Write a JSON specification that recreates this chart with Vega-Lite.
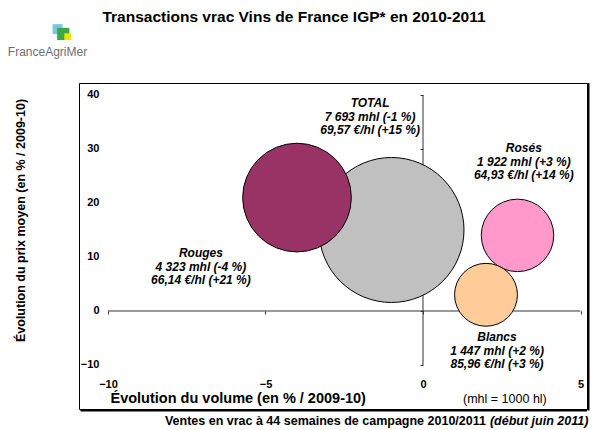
{
  "$schema": "https://vega.github.io/schema/vega-lite/v6.json",
  "width": 508,
  "height": 326,
  "autosize": {"type": "none"},
  "padding": {"left": 79, "top": 83, "right": 5, "bottom": 21},
  "title": {
    "text": "Transactions vrac Vins de France IGP* en 2010-2011",
    "font": "Liberation Sans",
    "fontSize": 15.5,
    "fontWeight": "bold",
    "color": "#000000",
    "anchor": "middle",
    "frame": "group",
    "dx": -39,
    "dy": 13,
    "baseline": "alphabetic",
    "offset": 0
  },
  "config": {
    "font": "Liberation Sans",
    "view": {"stroke": "#000000", "strokeWidth": 1},
    "axis": {"grid": false}
  },
  "datasets": {
    "bulles": [
      {"nom": "TOTAL", "volume_evol": -1, "prix_evol": 15, "volume_mhl": 7693, "prix_eur_hl": 69.57},
      {"nom": "Rosés", "volume_evol": 3, "prix_evol": 14, "volume_mhl": 1922, "prix_eur_hl": 64.93},
      {"nom": "Blancs", "volume_evol": 2, "prix_evol": 3, "volume_mhl": 1447, "prix_eur_hl": 85.96},
      {"nom": "Rouges", "volume_evol": -4, "prix_evol": 21, "volume_mhl": 4323, "prix_eur_hl": 66.14}
    ],
    "etiquettes": [
      {"nom": "TOTAL", "lx": -1.68, "ly": 38.5, "lignes": ["TOTAL", "7 693 mhl (-1 %)", "69,57 €/hl (+15 %)"]},
      {"nom": "Rosés", "lx": 3.2, "ly": 30.2, "lignes": ["Rosés", "1 922 mhl (+3 %)", "64,93 €/hl (+14 %)"]},
      {"nom": "Rouges", "lx": -7.05, "ly": 10.74, "lignes": ["Rouges", "4 323 mhl (-4 %)", "66,14 €/hl (+21 %)"]},
      {"nom": "Blancs", "lx": 2.35, "ly": -4.81, "lignes": ["Blancs", " 1 447 mhl (+2 %)", "85,96 €/hl (+3 %)"]}
    ],
    "axe_h": [{"x": -10, "x2": 5, "y": 0}],
    "axe_v": [{"x": 0, "y": -10, "y2": 40}],
    "cadre_bas": [{"x": -10.92, "x2": 5.206, "y": -18.15}],
    "cadre_droit": [{"x": 5.206, "y": -18.15, "y2": 42.22}],
    "note": [{"x": 2.6, "y": -16.3, "texte": "(mhl = 1000 hl)"}],
    "source": [{"x": 2.03, "y": -20.37, "texte": "Ventes en vrac à 44 semaines de campagne 2010/2011", "suite": "(début juin 2011)"}],
    "logo_texte": [{"x": -11.92, "y": 47.96, "texte": "FranceAgriMer"}],
    "logo_icone": [
      {"x": -11.6, "y": 52.2, "couleur": "#7fc4e8", "taille": 100},
      {"x": -11.42, "y": 51.3, "couleur": "#3aa845", "taille": 150},
      {"x": -11.28, "y": 50.8, "couleur": "#f2e200", "taille": 45}
    ]
  },
  "resolve": {"axis": {"x": "independent", "y": "independent"}},
  "layer": [
    {
      "data": {"name": "cadre_bas"},
      "mark": {"type": "rule", "stroke": "#000000", "strokeWidth": 2, "yOffset": 1.5, "xOffset": 1.5},
      "encoding": {
        "x": {"field": "x", "type": "quantitative", "scale": {"domain": [-10.92, 5.206], "nice": false, "zero": false}, "axis": null},
        "x2": {"field": "x2"},
        "y": {"field": "y", "type": "quantitative", "scale": {"domain": [-18.15, 42.22], "nice": false, "zero": false}, "axis": null}
      }
    },
    {
      "data": {"name": "cadre_droit"},
      "mark": {"type": "rule", "stroke": "#000000", "strokeWidth": 2, "yOffset": 1.5, "xOffset": 1.5},
      "encoding": {
        "x": {"field": "x", "type": "quantitative", "scale": {"domain": [-10.92, 5.206], "nice": false, "zero": false}, "axis": null},
        "y": {"field": "y", "type": "quantitative", "scale": {"domain": [-18.15, 42.22], "nice": false, "zero": false}, "axis": null},
        "y2": {"field": "y2"}
      }
    },
    {
      "data": {"name": "axe_h"},
      "mark": {"type": "rule", "stroke": "#333333", "strokeWidth": 1},
      "encoding": {
        "x": {"field": "x", "type": "quantitative", "scale": {"domain": [-10.92, 5.206], "nice": false, "zero": false},
          "axis": {"orient": "bottom", "offset": -98, "values": [-10, -5, 0, 5], "labels": false, "domain": false, "ticks": true, "tickSize": 3, "tickColor": "#333333", "title": null}},
        "x2": {"field": "x2"},
        "y": {"field": "y", "type": "quantitative", "scale": {"domain": [-18.15, 42.22], "nice": false, "zero": false}, "axis": null}
      }
    },
    {
      "data": {"name": "axe_v"},
      "mark": {"type": "rule", "stroke": "#333333", "strokeWidth": 1},
      "encoding": {
        "x": {"field": "x", "type": "quantitative", "scale": {"domain": [-10.92, 5.206], "nice": false, "zero": false}, "axis": null},
        "y": {"field": "y", "type": "quantitative", "scale": {"domain": [-18.15, 42.22], "nice": false, "zero": false},
          "axis": {"orient": "left", "offset": -344, "values": [-10, 0, 10, 20, 30, 40], "labels": false, "domain": false, "ticks": true, "tickSize": 3, "tickColor": "#333333", "title": null}},
        "y2": {"field": "y2"}
      }
    },
    {
      "data": {"name": "bulles"},
      "mark": {"type": "circle", "opacity": 1, "stroke": "#000000", "strokeWidth": 1},
      "encoding": {
        "x": {"field": "volume_evol", "type": "quantitative", "scale": {"domain": [-10.92, 5.206], "nice": false, "zero": false},
          "axis": {"orient": "bottom", "offset": -31, "values": [-10, -5, 0, 5], "domain": false, "ticks": false, "tickSize": 0, "labelPadding": 0,
            "labelFont": "Liberation Sans", "labelFontSize": 11, "labelFontWeight": "bold", "labelColor": "#000000", "labelFlush": false,
            "title": "Évolution du volume (en % / 2009-10)", "titleFont": "Liberation Sans", "titleFontSize": 14.5, "titleFontWeight": "bold", "titleColor": "#000000",
            "titleX": 31, "titleY": 24, "titleAlign": "left", "titleBaseline": "alphabetic"}},
        "y": {"field": "prix_evol", "type": "quantitative", "scale": {"domain": [-18.15, 42.22], "nice": false, "zero": false},
          "axis": {"orient": "left", "offset": -21, "values": [-10, 0, 10, 20, 30, 40], "domain": false, "ticks": false, "tickSize": 0, "labelPadding": 1,
            "labelFont": "Liberation Sans", "labelFontSize": 11, "labelFontWeight": "bold", "labelColor": "#000000", "labelFlush": false,
            "title": "Évolution du prix moyen (en % / 2009-10)", "titleFont": "Liberation Sans", "titleFontSize": 12.5, "titleFontWeight": "bold", "titleColor": "#000000",
            "titleAngle": -90, "titleX": -80, "titleY": 137, "titleAlign": "center", "titleBaseline": "middle"}},
        "size": {"field": "volume_mhl", "type": "quantitative", "scale": {"type": "linear", "domain": [0, 7693], "range": [0, 21025]}, "legend": null},
        "color": {"field": "nom", "type": "nominal", "scale": {"domain": ["TOTAL", "Rosés", "Blancs", "Rouges"], "range": ["#C0C0C0", "#FF99CC", "#FFCC99", "#993366"]}, "legend": null}
      }
    },
    {
      "data": {"name": "etiquettes"},
      "mark": {"type": "text", "font": "Liberation Sans", "fontSize": 12, "fontWeight": "bold", "fontStyle": "italic", "align": "center", "baseline": "middle", "lineHeight": 13.7, "color": "#000000"},
      "encoding": {
        "x": {"field": "lx", "type": "quantitative", "scale": {"domain": [-10.92, 5.206], "nice": false, "zero": false}, "axis": null},
        "y": {"field": "ly", "type": "quantitative", "scale": {"domain": [-18.15, 42.22], "nice": false, "zero": false}, "axis": null},
        "text": {"field": "lignes"}
      }
    },
    {
      "data": {"name": "note"},
      "mark": {"type": "text", "font": "Liberation Sans", "fontSize": 12.5, "align": "center", "baseline": "middle", "color": "#000000"},
      "encoding": {
        "x": {"field": "x", "type": "quantitative", "scale": {"domain": [-10.92, 5.206], "nice": false, "zero": false}, "axis": null},
        "y": {"field": "y", "type": "quantitative", "scale": {"domain": [-18.15, 42.22], "nice": false, "zero": false}, "axis": null},
        "text": {"field": "texte"}
      }
    },
    {
      "data": {"name": "source"},
      "mark": {"type": "text", "font": "Liberation Sans", "fontSize": 12.5, "fontWeight": "bold", "align": "right", "baseline": "middle", "dx": -1, "color": "#000000"},
      "encoding": {
        "x": {"field": "x", "type": "quantitative", "scale": {"domain": [-10.92, 5.206], "nice": false, "zero": false}, "axis": null},
        "y": {"field": "y", "type": "quantitative", "scale": {"domain": [-18.15, 42.22], "nice": false, "zero": false}, "axis": null},
        "text": {"field": "texte"}
      }
    },
    {
      "data": {"name": "source"},
      "mark": {"type": "text", "font": "Liberation Sans", "fontSize": 12.5, "fontWeight": "bold", "fontStyle": "italic", "align": "left", "baseline": "middle", "dx": 3, "color": "#000000"},
      "encoding": {
        "x": {"field": "x", "type": "quantitative", "scale": {"domain": [-10.92, 5.206], "nice": false, "zero": false}, "axis": null},
        "y": {"field": "y", "type": "quantitative", "scale": {"domain": [-18.15, 42.22], "nice": false, "zero": false}, "axis": null},
        "text": {"field": "suite"}
      }
    },
    {
      "data": {"name": "logo_icone"},
      "mark": {"type": "square", "opacity": 1},
      "encoding": {
        "x": {"field": "x", "type": "quantitative", "scale": {"domain": [-10.92, 5.206], "nice": false, "zero": false}, "axis": null},
        "y": {"field": "y", "type": "quantitative", "scale": {"domain": [-18.15, 42.22], "nice": false, "zero": false}, "axis": null},
        "color": {"field": "couleur", "type": "nominal", "scale": null, "legend": null},
        "size": {"field": "taille", "type": "quantitative", "scale": null, "legend": null}
      }
    },
    {
      "data": {"name": "logo_texte"},
      "mark": {"type": "text", "font": "Liberation Sans", "fontSize": 12, "align": "center", "baseline": "middle", "color": "#6e6e6e"},
      "encoding": {
        "x": {"field": "x", "type": "quantitative", "scale": {"domain": [-10.92, 5.206], "nice": false, "zero": false}, "axis": null},
        "y": {"field": "y", "type": "quantitative", "scale": {"domain": [-18.15, 42.22], "nice": false, "zero": false}, "axis": null},
        "text": {"field": "texte"}
      }
    }
  ]
}
